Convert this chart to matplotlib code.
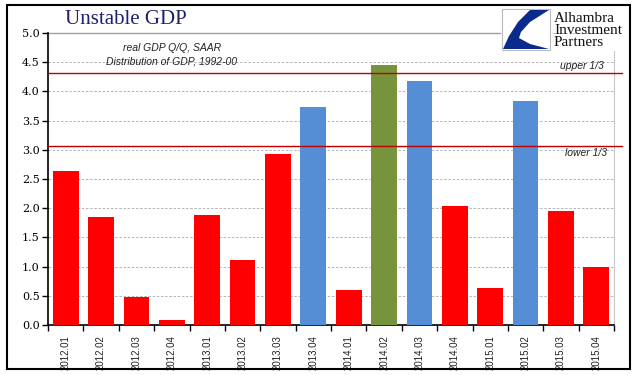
import matplotlib
matplotlib.use('Agg')
import matplotlib.pyplot as plt
from matplotlib.patches import Rectangle, Polygon

# données
quarters = ['2012.01', '2012.02', '2012.03', '2012.04', '2013.01', '2013.02', '2013.03', '2013.04',
            '2014.01', '2014.02', '2014.03', '2014.04', '2015.01', '2015.02', '2015.03', '2015.04']
gdp = [2.64, 1.85, 0.48, 0.09, 1.88, 1.11, 2.93, 3.73,
       0.60, 4.45, 4.18, 2.04, 0.63, 3.84, 1.95, 1.00]
upper_third = 4.31
lower_third = 3.07
logo_lines = ['Alhambra', 'Investment', 'Partners']

RED = '#FF0000'
BLUE = '#558ED5'
GREEN = '#77933C'

def bar_color(v):
    if v >= upper_third:
        return GREEN
    if v >= lower_third:
        return BLUE
    return RED

colors = [bar_color(v) for v in gdp]

W, H = 641, 375
fig = plt.figure(figsize=(W / 100, H / 100), dpi=100)
ax = fig.add_axes([48 / W, 1 - 325 / H, 566 / W, 292 / H])

x = list(range(len(quarters)))
ax.bar(x, gdp, width=0.73, color=colors, zorder=3)

ax.axhline(upper_third, color='#C00000', lw=1.0, zorder=4, xmin=0, xmax=1.015, clip_on=False)
ax.axhline(lower_third, color='#C00000', lw=1.0, zorder=4, xmin=0, xmax=1.015, clip_on=False)

ax.set_xlim(-0.5, len(quarters) - 0.5)
ax.set_ylim(0, 5.0)
ax.set_yticks([i * 0.5 for i in range(11)])
ax.set_yticklabels([f'{i * 0.5:.1f}' for i in range(11)], fontsize=8, family='DejaVu Serif')
ax.set_xticks(x)
ax.set_xticklabels(quarters, rotation=90, fontsize=7, family='Liberation Sans', color='#222222')
ax.set_xticks([i - 0.5 for i in range(len(quarters) + 1)], minor=True)
ax.tick_params(axis='x', which='major', length=0, pad=7)
ax.tick_params(axis='x', which='minor', length=4, width=1, direction='out')
ax.tick_params(axis='y', length=4, width=1, direction='out', pad=2)

ax.grid(axis='y', color='#AAAAAA', linestyle=(0, (3, 2)), lw=0.6, zorder=0)
for s in ['left', 'bottom']:
    ax.spines[s].set_color('black')
    ax.spines[s].set_linewidth(1.2)
ax.spines['top'].set_visible(False)
ax.spines['right'].set_color('#C8C8C8')
ax.spines['right'].set_bounds(0, 4.7)
# ligne grise en haut, s'arrête avant le logo
ax.axhline(5.0, xmin=0, xmax=(500 - 48) / 566, color='#A0A0A0', lw=1.0, clip_on=False)

ax.text(3.0, 4.75, 'real GDP Q/Q, SAAR', style='italic', fontsize=7.5, ha='center', va='center',
        family='Liberation Sans', color='#222222')
ax.text(3.0, 4.51, 'Distribution of GDP, 1992-00', style='italic', fontsize=7.5, ha='center', va='center',
        family='Liberation Sans', color='#222222')
ax.text(15.2, upper_third + 0.13, 'upper 1/3', style='italic', fontsize=7.5, ha='right', va='center',
        family='Liberation Sans', color='#222222')
ax.text(15.3, lower_third - 0.13, 'lower 1/3', style='italic', fontsize=7.5, ha='right', va='center',
        family='Liberation Sans', color='#222222')

# titre
fig.text(65 / W, 1 - 19 / H, 'Unstable GDP', fontsize=15, family='Liberation Serif', color='#1F1F6B',
         ha='left', va='center')

# cadre extérieur
fig.add_artist(Rectangle((7 / W, 1 - 369 / H), 623 / W, 364 / H, transform=fig.transFigure,
                         fill=False, edgecolor='black', lw=1.5))

# logo
fig.add_artist(Rectangle((502 / W, 1 - 50 / H), 48 / W, 41 / H, transform=fig.transFigure,
                         fill=True, facecolor='white', edgecolor='#BBBBBB', lw=0.8))
swoosh = [(530, 10), (549, 10), (530, 22), (521, 32), (519, 38), (530, 44), (549, 49),
          (503, 49), (509, 36), (518, 22)]
fig.add_artist(Polygon([(px / W, 1 - py / H) for px, py in swoosh], transform=fig.transFigure,
                       facecolor='#0A2A8C', edgecolor='none'))
for i, line in enumerate(logo_lines):
    fig.text(554 / W, 1 - (18 + 12.5 * i) / H, line, fontsize=11, family='Liberation Serif',
             color='#111111', ha='left', va='center')

fig.savefig('out.png', dpi=100)
